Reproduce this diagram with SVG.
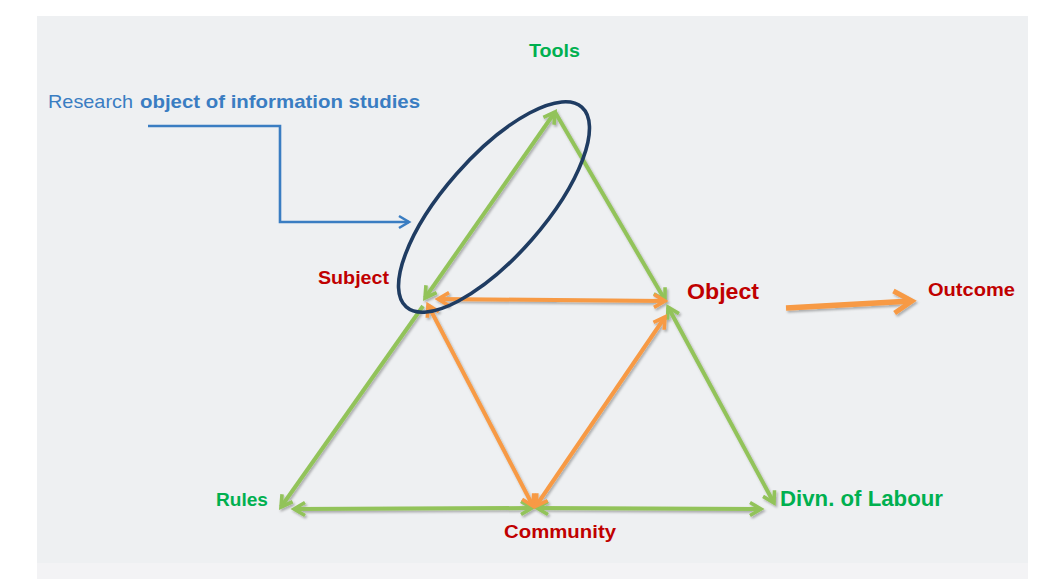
<svg xmlns="http://www.w3.org/2000/svg" width="1053" height="579" viewBox="0 0 1053 579">
  <style>
    .lbl { font-family: "Liberation Sans", Arial, sans-serif; font-weight: bold; }
    .red { fill: #c00000; }
    .grn { fill: #00b050; }
    .blu { fill: #3a7dc2; }
    .g { stroke: #92c35a; stroke-width: 4; fill: none; }
    .o { stroke: #f79a45; stroke-width: 4; fill: none; }
  </style>
  <defs>
    <filter id="shade" x="-10%" y="-10%" width="120%" height="120%">
      <feDropShadow dx="1.5" dy="2" stdDeviation="1.2" flood-color="#000" flood-opacity="0.28"/>
    </filter>
    <marker id="gh" markerUnits="userSpaceOnUse" markerWidth="24" markerHeight="24" refX="18" refY="12" orient="auto-start-reverse">
      <path d="M7,5.5 L18,12 L7,18.5" fill="none" stroke="#92c35a" stroke-width="3.6"/>
    </marker>
    <marker id="oh" markerUnits="userSpaceOnUse" markerWidth="24" markerHeight="24" refX="18" refY="12" orient="auto-start-reverse">
      <path d="M7,5.5 L18,12 L7,18.5" fill="none" stroke="#f79a45" stroke-width="3.6"/>
    </marker>
    <marker id="obig" markerUnits="userSpaceOnUse" markerWidth="34" markerHeight="34" refX="26" refY="17" orient="auto">
      <path d="M8,6 L26,17 L8,28" fill="none" stroke="#f79a45" stroke-width="5"/>
    </marker>
    <marker id="bh" markerUnits="userSpaceOnUse" markerWidth="20" markerHeight="20" refX="15" refY="10" orient="auto">
      <path d="M5,4 L15,10 L5,16" fill="none" stroke="#3a7dc2" stroke-width="2.6"/>
    </marker>
  </defs>

  <!-- page background -->
  <rect x="0" y="0" width="1053" height="579" fill="#ffffff"/>
  <rect x="37" y="16" width="991" height="563" fill="#f3f3f5"/>
  <rect x="37" y="16" width="991" height="547" fill="#eef0f2"/>

  <!-- activity system connectors -->
  <g id="connectors">
    <g filter="url(#shade)">
      <!-- outer triangle -->
      <line class="g" x1="425" y1="298" x2="555" y2="112" marker-start="url(#gh)" marker-end="url(#gh)"/>
      <line class="g" x1="555" y1="112" x2="665" y2="300" marker-end="url(#gh)"/>
      <line class="g" x1="423" y1="306" x2="281" y2="507" marker-end="url(#gh)"/>
      <line class="g" x1="668" y1="307" x2="774" y2="503" marker-start="url(#gh)" marker-end="url(#gh)"/>
      <line class="g" x1="294" y1="509" x2="532" y2="508" marker-start="url(#gh)" marker-end="url(#gh)"/>
      <line class="g" x1="537" y1="508" x2="761" y2="509" marker-start="url(#gh)" marker-end="url(#gh)"/>
      <!-- inner triangle -->
      <line class="o" x1="438" y1="299" x2="665" y2="301" marker-start="url(#oh)" marker-end="url(#oh)"/>
      <line class="o" x1="428" y1="305" x2="533" y2="506" marker-start="url(#oh)" marker-end="url(#oh)"/>
      <line class="o" x1="536" y1="506" x2="665" y2="317" marker-start="url(#oh)" marker-end="url(#oh)"/>
      <!-- object to outcome -->
      <line x1="786" y1="308" x2="912" y2="301" stroke="#f79a45" stroke-width="5.5" marker-end="url(#obig)"/>
    </g>
    <!-- pointer from the research label -->
    <polyline points="148,126 280,126 280,222 409,222" fill="none" stroke="#3a7dc2" stroke-width="2.6" marker-end="url(#bh)"/>
  </g>

  <!-- highlighted Subject–Tools relation -->
  <g id="scope">
    <ellipse cx="494" cy="207" rx="133" ry="50" transform="rotate(-48.7 494 207)" fill="none" stroke="#1f3c62" stroke-width="3.6"/>
  </g>

  <g id="research-label">
    <text class="lbl blu" x="48" y="108" font-size="19" font-weight="normal" style="font-weight:normal" textLength="85" lengthAdjust="spacingAndGlyphs">Research</text>
    <text class="lbl blu" x="140" y="108" font-size="19" textLength="280" lengthAdjust="spacingAndGlyphs">object of information studies</text>
  </g>
  <g id="tools"><text class="lbl grn" x="529" y="57" font-size="19" textLength="51" lengthAdjust="spacingAndGlyphs">Tools</text></g>
  <g id="subject"><text class="lbl red" x="318" y="284" font-size="19" textLength="71" lengthAdjust="spacingAndGlyphs">Subject</text></g>
  <g id="object"><text class="lbl red" x="687" y="299" font-size="22" textLength="72" lengthAdjust="spacingAndGlyphs">Object</text></g>
  <g id="outcome"><text class="lbl red" x="928" y="296" font-size="19" textLength="87" lengthAdjust="spacingAndGlyphs">Outcome</text></g>
  <g id="rules"><text class="lbl grn" x="216" y="506" font-size="19" textLength="52" lengthAdjust="spacingAndGlyphs">Rules</text></g>
  <g id="community"><text class="lbl red" x="504" y="538" font-size="18" textLength="112" lengthAdjust="spacingAndGlyphs">Community</text></g>
  <g id="division-of-labour"><text class="lbl grn" x="780" y="506" font-size="22" textLength="163" lengthAdjust="spacingAndGlyphs">Divn. of Labour</text></g>
</svg>
